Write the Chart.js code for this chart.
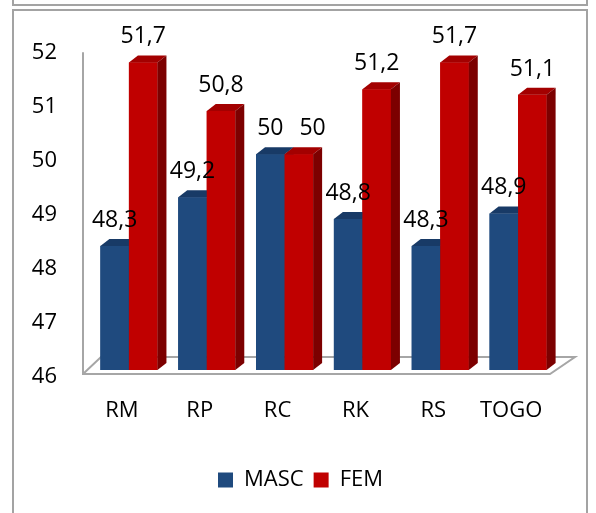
<!DOCTYPE html>
<html><head><meta charset="utf-8">
<script src="https://cdn.jsdelivr.net/npm/chart.js@4.4.0/dist/chart.umd.min.js"></script>
<style>
html,body{margin:0;padding:0;background:#fff;}
#wrap{position:relative;width:596px;height:513px;overflow:hidden;background:#fff;}
.box{position:absolute;border:2px solid #a3a3a3;box-sizing:border-box;}
canvas{position:absolute;left:0;top:0;}
</style></head><body>
<div id="wrap">
<div class="box" style="left:12px;top:-20px;width:576px;height:26px"></div>
<div class="box" style="left:12px;top:9px;width:576px;height:600px"></div>
<canvas id="c" width="596" height="513" style="width:596px;height:513px"></canvas>
</div>
<script>
const categories = ['RM', 'RP', 'RC', 'RK', 'RS', 'TOGO'];
const mascValues = [48.3, 49.2, 50, 48.8, 48.3, 48.9];
const femValues = [51.7, 50.8, 50, 51.2, 51.7, 51.1];
const seriesNames = ['MASC', 'FEM'];
const yTicks = [46, 47, 48, 49, 50, 51, 52];

const FONT = 'Open Sans';
const DX = 9, DY = 7;
const faces = [
  { front: '#1f4a7e', top: '#183a66', side: '#132f52' },
  { front: '#c00000', top: '#a30000', side: '#7c0000' }
];

function fmt(v) { return String(v).replace('.', ','); }

const bar3d = {
  id: 'bar3d',
  afterLayout(chart) {
    if (chart.legend) { chart.legend.left += 8; chart.legend.right += 8; }
  },
  beforeDatasetsDraw(chart) {
    const ctx = chart.ctx, a = chart.chartArea;
    ctx.save();
    ctx.strokeStyle = '#a6a6a6';
    ctx.lineWidth = 2;
    const fl = [a.left - 7, a.bottom + 4], fr = [a.right - 7, a.bottom + 4];
    const br = [a.right + 18, a.bottom - 13], bl = [a.left + 11, a.bottom - 13];
    ctx.beginPath();
    ctx.moveTo(a.left - 7, a.top + 6);
    ctx.lineTo(fl[0], fl[1]);
    ctx.lineTo(fr[0], fr[1]);
    ctx.lineTo(br[0], br[1]);
    ctx.lineTo(bl[0], bl[1]);
    ctx.lineTo(fl[0], fl[1]);
    ctx.stroke();
    ctx.restore();
  },
  afterDatasetsDraw(chart) {
    const ctx = chart.ctx;
    const metas = [chart.getDatasetMeta(0), chart.getDatasetMeta(1)];
    const floorY = chart.scales.y.getPixelForValue(yTicks[0]);
    ctx.save();
    for (let i = 0; i < categories.length; i++) {
      metas.forEach((m, d) => {
        const b = m.data[i];
        const l = b.x - b.width / 2, r = b.x + b.width / 2, t = b.y;
        const bot = Math.min(b.base, floorY);
        const f = faces[d];
        ctx.fillStyle = f.front;
        ctx.fillRect(l, t, r - l, bot - t);
        ctx.fillStyle = f.top;
        ctx.beginPath();
        ctx.moveTo(l, t); ctx.lineTo(l + DX, t - DY); ctx.lineTo(r + DX, t - DY); ctx.lineTo(r, t);
        ctx.closePath(); ctx.fill();
        ctx.fillStyle = f.side;
        ctx.beginPath();
        ctx.moveTo(r, t); ctx.lineTo(r + DX, t - DY); ctx.lineTo(r + DX, bot - DY); ctx.lineTo(r, bot);
        ctx.closePath(); ctx.fill();
      });
    }
    // data labels
    ctx.font = '23px "' + FONT + '"';
    ctx.fillStyle = '#000';
    ctx.textAlign = 'center';
    ctx.textBaseline = 'alphabetic';
    const vals = [mascValues, femValues];
    for (let i = 0; i < categories.length; i++) {
      const b0 = metas[0].data[i], b1 = metas[1].data[i];
      const t0 = fmt(vals[0][i]), t1 = fmt(vals[1][i]);
      const w0 = ctx.measureText(t0).width, w1 = ctx.measureText(t1).width;
      let x0 = b0.x, x1 = b1.x;
      const y0 = b0.y - 19, y1 = b1.y - 19;
      if (Math.abs(y0 - y1) < 22 && x0 + w0 / 2 + 4 > x1 - w1 / 2) {
        x1 = x0 + w0 / 2 + 16 + w1 / 2;
      }
      ctx.fillText(t0, x0, y0);
      ctx.fillText(t1, x1, y1);
    }
    ctx.restore();
  }
};

new Chart(document.getElementById('c'), {
  type: 'bar',
  data: {
    labels: categories,
    datasets: [
      { label: seriesNames[0], data: mascValues, backgroundColor: faces[0].front, borderWidth: 0 },
      { label: seriesNames[1], data: femValues, backgroundColor: faces[1].front, borderWidth: 0 }
    ]
  },
  options: {
    responsive: false,
    animation: false,
    layout: { padding: { left: 28, right: 39, top: 46, bottom: 12 } },
    datasets: { bar: { categoryPercentage: 0.733, barPercentage: 1 } },
    plugins: {
      tooltip: { enabled: false },
      legend: {
        position: 'bottom',
        labels: {
          boxWidth: 15, boxHeight: 15, padding: 10, color: '#000',
          font: { family: FONT, size: 22 }
        }
      }
    },
    scales: {
      x: {
        grid: { display: false, drawTicks: false },
        border: { display: false },
        afterFit(s) { s.height = 89; },
        ticks: { padding: 28, labelOffset: -7, color: '#000', font: { family: FONT, size: 22 } }
      },
      y: {
        min: yTicks[0], max: yTicks[yTicks.length - 1],
        grid: { display: false, drawTicks: false },
        border: { display: false },
        afterFit(s) { s.width = 62; },
        afterBuildTicks(s) { s.ticks = yTicks.map(v => ({ value: v })); },
        ticks: { padding: 33, labelOffset: 7, color: '#000', font: { family: FONT, size: 22 } }
      }
    }
  },
  plugins: [bar3d]
});
</script>
</body></html>
